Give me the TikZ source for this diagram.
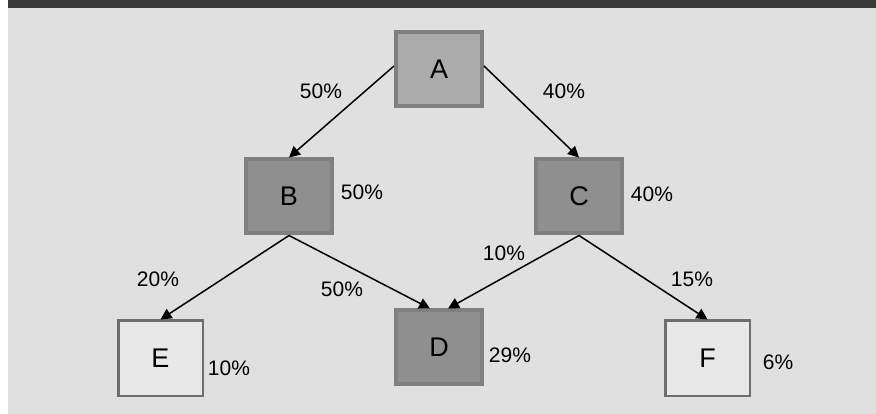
\documentclass[tikz,border=0pt]{standalone}
\usepackage{fontspec}
\setmainfont{Liberation Sans}
\usetikzlibrary{arrows.meta,positioning}
\definecolor{dgframe}{HTML}{3A3A3A}
\definecolor{dgback}{HTML}{E0E0E0}
\definecolor{dglight}{HTML}{ABABAB}
\definecolor{dgmid}{HTML}{8F8F8F}
\definecolor{dgpale}{HTML}{E8E8E8}
\definecolor{dgedge}{HTML}{808080}
\definecolor{dgedgedark}{HTML}{6E6E6E}

\begin{document}
\begin{tikzpicture}[x=1pt,y=1pt,
  box/.style={draw=dgedge,line width=4pt,minimum width=86pt,minimum height=74pt,
    inner sep=0pt,font=\fontsize{27}{30}\selectfont},
  leaf/.style={draw=dgedgedark,fill=dgpale,line width=2.5pt,minimum width=84.5pt,
    minimum height=75.5pt,inner sep=0pt,font=\fontsize{27}{30}\selectfont},
  pct/.style={font=\fontsize{21}{24}\selectfont},
  flow/.style={-{Triangle[length=11pt,width=11pt]},line width=1.5pt}]

  % ---- Frame -------------------------------------------------
  \fill[white] (0,0) rectangle (876,414);
  \fill[dgback] (8,0) rectangle (876,406);
  \fill[dgframe] (8,406) rectangle (876,414);

  % ---- Boxes -------------------------------------------------
  \node[box,fill=dglight] (A) at (439,345) {A};
  \node[box,fill=dgmid] (B) at (289,217.5) {B};
  \node[box,fill=dgmid] (C) at (579,217.5) {C};
  \node[box,fill=dgmid] (D) at (439,66.5) {D};
  \node[leaf] (E) at (160.5,55.5) {E};
  \node[leaf] (F) at (707.5,55.5) {F};

  % ---- Flows -------------------------------------------------
  \draw[flow] ([yshift=3pt]A.west) -- (B.north);
  \draw[flow] ([yshift=3pt]A.east) -- (C.north);
  \draw[flow] (B.south) -- (E.north);
  \draw[flow] (B.south) -- ([xshift=-9pt]D.north);
  \draw[flow] (C.south) -- ([xshift=9pt]D.north);
  \draw[flow] (C.south) -- (F.north);

  % Flow shares
  \node[pct] (lAB) at (321,323) {50\%};
  \node[pct] (lAC) at (564,323) {40\%};
  \node[pct] (lBE) at (158,135) {20\%};
  \node[pct] (lBD) at (342,125) {50\%};
  \node[pct] (lCD) at (504,161) {10\%};
  \node[pct] (lCF) at (692,135) {15\%};

  % Box totals
  \node[pct] (lB) at (362,222) {50\%};
  \node[pct] (lC) at (652,220) {40\%};
  \node[pct] (lE) at (229,46) {10\%};
  \node[pct] (lD) at (510,59) {29\%};
  \node[pct] (lF) at (778,52) {6\%};

\end{tikzpicture}
\end{document}
